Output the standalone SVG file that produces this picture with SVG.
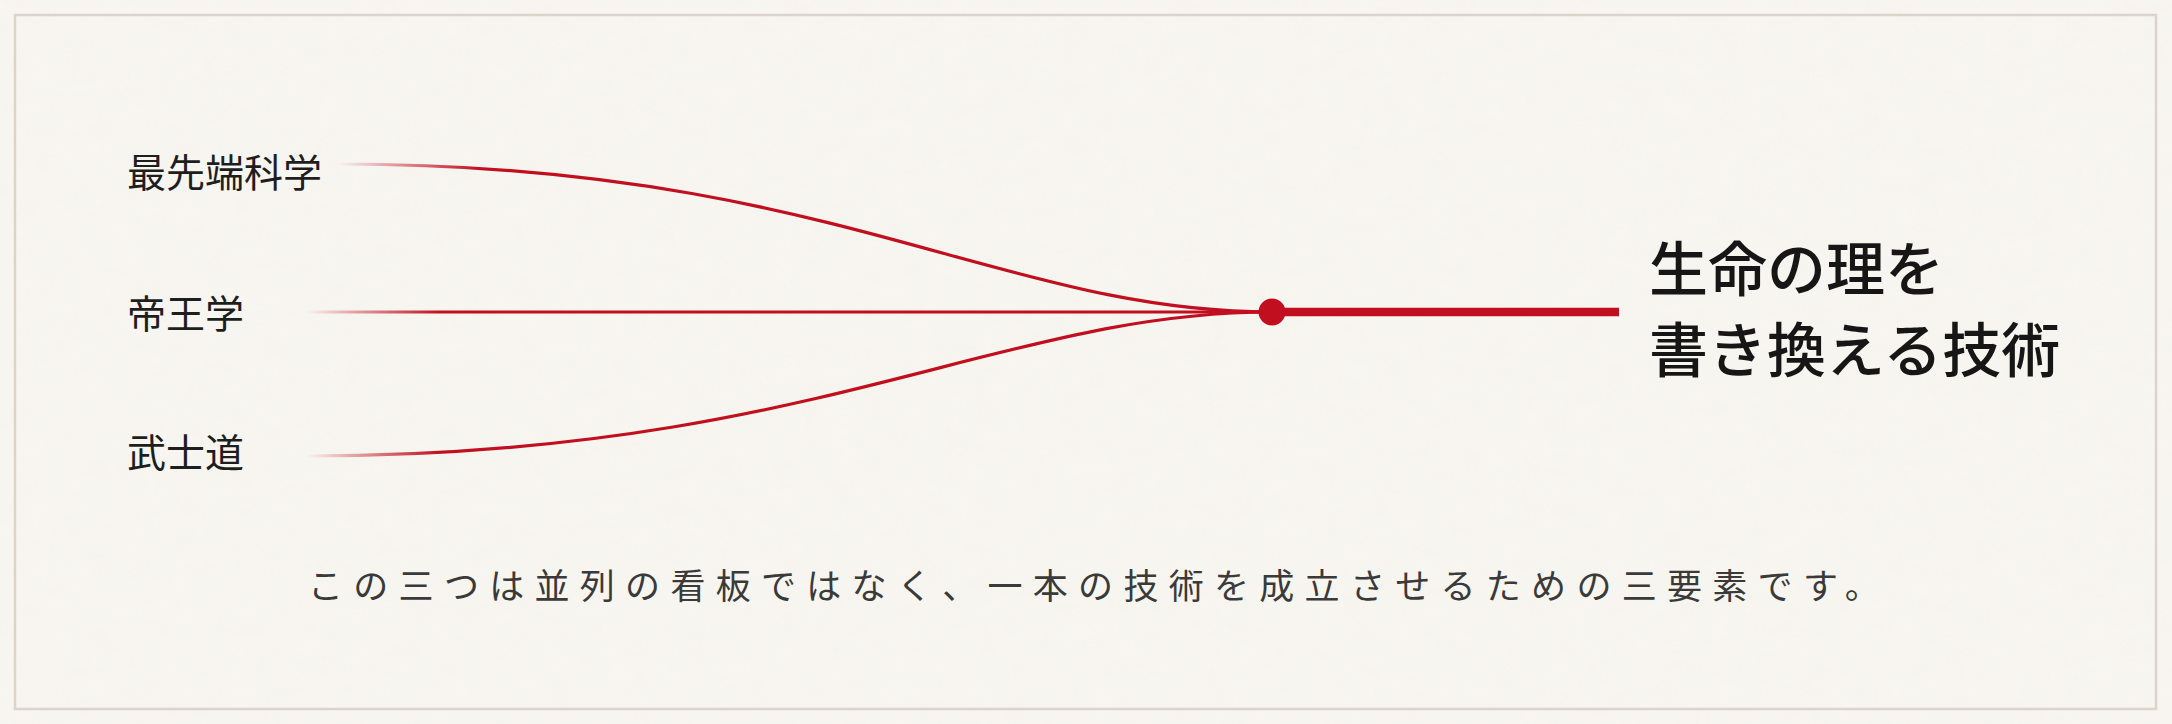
<svg xmlns="http://www.w3.org/2000/svg" width="2172" height="724" viewBox="0 0 2172 724">
  <defs>
    <style>
      .label { font-family: "Noto Sans CJK JP", "Noto Sans CJK SC", sans-serif; font-size: 39px; fill: #1e1e1e; }
      .title { font-family: "Noto Sans CJK JP", "Noto Sans CJK SC", sans-serif; font-size: 59px; font-weight: 500; fill: #161616; }
      .caption { font-family: "Noto Sans CJK JP", "Noto Sans CJK SC", sans-serif; font-size: 35px; letter-spacing: 10.3px; fill: #3a3a3a; }
      .thread { fill: none; stroke-width: 3.2; stroke-linecap: round; }
    </style>
    <linearGradient id="fadeTop" gradientUnits="userSpaceOnUse" x1="338" y1="0" x2="480" y2="0">
      <stop offset="0" stop-color="#c10f1f" stop-opacity="0"/>
      <stop offset="1" stop-color="#c10f1f" stop-opacity="1"/>
    </linearGradient>
    <linearGradient id="fadeMid" gradientUnits="userSpaceOnUse" x1="306" y1="0" x2="440" y2="0">
      <stop offset="0" stop-color="#c10f1f" stop-opacity="0"/>
      <stop offset="1" stop-color="#c10f1f" stop-opacity="1"/>
    </linearGradient>
    <filter id="paper" x="0" y="0" width="100%" height="100%">
      <feTurbulence type="fractalNoise" baseFrequency="0.035 0.05" numOctaves="3" seed="7" result="n"/>
      <feColorMatrix in="n" type="matrix" values="0 0 0 0 0.55  0 0 0 0 0.5  0 0 0 0 0.42  0 0 0 0.18 0"/>
    </filter>
  </defs>

  <g id="background">
    <rect x="0" y="0" width="2172" height="724" fill="#f8f6f1"/>
    <rect x="0" y="0" width="2172" height="724" filter="url(#paper)" opacity="0.2"/>
    <rect x="15" y="15" width="2141" height="694" fill="none" stroke="#dad4c9" stroke-width="2.5"/>
  </g>

  <g id="connectors">
    <path class="thread" stroke="url(#fadeTop)" d="M338,164 C830,164 1000,312 1272,312"/>
    <path class="thread" stroke="url(#fadeMid)" d="M306,312 L1272,312"/>
    <path class="thread" stroke="url(#fadeMid)" d="M306,456 C810,456 1000,312 1272,312"/>
    <line x1="1272" y1="312" x2="1619" y2="312" stroke="#c10f1f" stroke-width="8.5"/>
  </g>

  <g id="node-science">
    <text class="label" x="127" y="187">最先端科学</text>
  </g>
  <g id="node-kingship">
    <text class="label" x="127" y="328">帝王学</text>
  </g>
  <g id="node-bushido">
    <text class="label" x="127" y="467">武士道</text>
  </g>

  <g id="node-junction">
    <circle cx="1272" cy="312" r="13.5" fill="#c10f1f"/>
  </g>

  <g id="node-result">
    <text class="title" x="1649" y="291">生命の理を</text>
    <text class="title" x="1649" y="372">書き換える技術</text>
  </g>

  <g id="caption">
    <text class="caption" x="308" y="599">この三つは並列の看板ではなく、一本の技術を成立させるための三要素です。</text>
  </g>
</svg>
